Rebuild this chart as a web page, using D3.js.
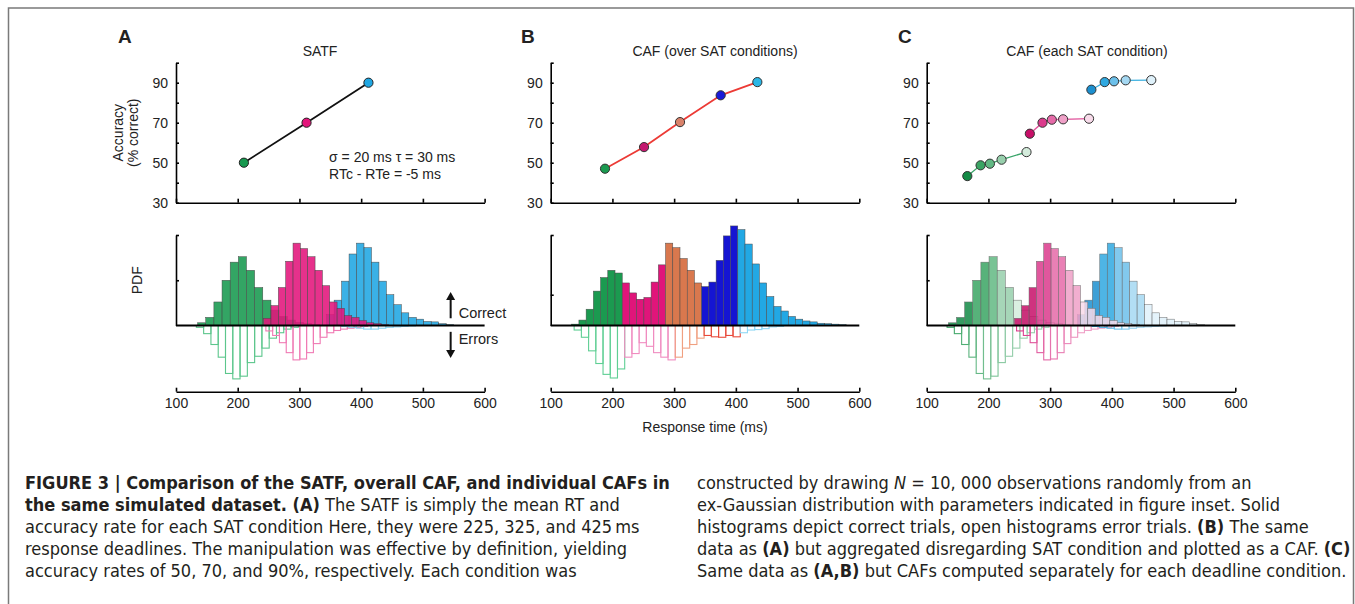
<!DOCTYPE html>
<html>
<head>
<meta charset="utf-8">
<script src="https://cdn.jsdelivr.net/npm/d3@7"></script>
<style>
body { margin: 0; background: #fff; }
svg { display: block; font-family: "Liberation Sans", Arial, sans-serif; }
.cap { font-family: "Liberation Sans Narrow", "DejaVu Sans Condensed", "Liberation Sans", sans-serif; white-space: pre; fill: #231f20; }
</style>
</head>
<body>
<div id="main"></div>
<script>
// ---- data ----
const RT_TICKS = [100, 200, 300, 400, 500, 600];
const ACC_TICKS = [30, 40, 50, 60, 70, 80, 90, 100];
const ACC_LABELS = [30, 50, 70, 90];
const PDF_TICKS = [[0.5, 1], [0.34, 1], [0.5, 1]];

// A: SATF
const SATF_RT = [210, 311.5, 411.8];
const SATF_ACC = [50, 70, 90];
const COND_FILL = ["#17994f", "#e3157b", "#1fa6e2"];
const COND_ERR = ["#5cc68c", "#f07ab4", "#8ad4f2"];

// B: CAF pooled over conditions
const CAF_RT = [188, 251.2, 309.5, 375.4, 434.8];
const CAF_ACC = [47, 57.8, 70.3, 83.7, 90.3];
const POOL_COLORS = ["#1b9a50", "#e0157a", "#d9784e", "#1515d2", "#22a8e4"];
const POOL_MARK = ["#1b9a50", "#c4186f", "#d9826a", "#1a1ad8", "#2ab6e6"];
const POOL_ERR_COLORS = ["#5fcf94", "#f08cc0", "#f0a080", "#e84b3c", "#8fd8f5"];

// C: CAF per condition
const CAFC_RT = [[165.8, 187.3, 202.4, 221.3, 261.7], [267.1, 287.6, 302.7, 321, 363], [366.8, 388.4, 403.5, 422.4, 463.9]];
const CAFC_ACC = [[43.3, 48.7, 49.5, 51.5, 55.3], [64.5, 70, 71.5, 71.7, 72], [86.5, 90.3, 90.7, 91.2, 91.3]];
const COND_SHADES = [
    ["#138a45", "#3aa463", "#62b883", "#97cfac", "#d4ecdc"],
    ["#c70f68", "#db3a8c", "#e56aa8", "#efa0c7", "#f8dbea"],
    ["#1c8fcf", "#2fa8e0", "#6cc0ea", "#a5d8f2", "#dff1fa"]
];
const COND_LINE = ["#3aa56a", "#e0529a", "#3cb0e0"];
const C_SEG = [[3, 2, 1, 2, 7], [3, 2, 2, 2, 8], [3, 2, 2, 2, 8]];

// histograms per SAT condition (relative PDF units)
const CORR_START = [135, 242, 344.1];
const CORR_WIDTH = [13.2, 11.9, 12.1];
const CORR_PDF = [
    [0.03, 0.09, 0.26, 0.50, 0.70, 0.76, 0.61, 0.42, 0.28, 0.17, 0.10, 0.06, 0.035, 0.02, 0.01],
    [0.08, 0.22, 0.42, 0.71, 0.91, 0.85, 0.76, 0.61, 0.44, 0.26, 0.19, 0.11, 0.09, 0.055, 0.03, 0.02, 0.01],
    [0.12, 0.28, 0.49, 0.79, 0.91, 0.86, 0.70, 0.49, 0.34, 0.23, 0.14, 0.09, 0.07, 0.045, 0.04, 0.02, 0.01]
];
const ERR_START = [133, 245.6, 368];
const ERR_WIDTH = [11.8, 11, 12];
const ERR_PDF = [
    [0.02, 0.09, 0.21, 0.35, 0.53, 0.59, 0.56, 0.41, 0.34, 0.25, 0.14, 0.08, 0.04, 0.02],
    [0.06, 0.11, 0.19, 0.30, 0.38, 0.37, 0.30, 0.20, 0.13, 0.08, 0.055, 0.04, 0.03, 0.02, 0.01],
    [0.01, 0.02, 0.03, 0.04, 0.04, 0.03, 0.02, 0.015, 0.01, 0.005]
];

// pooled histogram (panel B)
const POOL_START = 134, POOL_WIDTH = 11.7;
const POOL_PDF = [0.015, 0.06, 0.18, 0.38, 0.53, 0.61, 0.58,
    0.47, 0.36, 0.29, 0.31, 0.48, 0.67,
    0.91, 0.86, 0.74, 0.61, 0.47,
    0.43, 0.48, 0.72, 0.99, 1.10,
    1.06, 0.90, 0.68, 0.47, 0.32, 0.21, 0.16, 0.10, 0.07, 0.05, 0.04, 0.025, 0.02, 0.015, 0.01];
const POOL_SEG = [7, 6, 5, 5, 15];
const POOL_ERR_START = 138;
const POOL_ERR_PDF = [0.05, 0.13, 0.28, 0.42, 0.54, 0.58, 0.48,
    0.35, 0.31, 0.19, 0.23, 0.30, 0.35, 0.38,
    0.35, 0.25, 0.21, 0.14,
    0.11, 0.125, 0.13, 0.11, 0.125,
    0.08, 0.05, 0.045, 0.035, 0.015, 0.01];
const POOL_ERR_SEG = [7, 7, 4, 5, 6];

const CAPTION_LEFT = [
    [["FIGURE 3 | Comparison of the SATF, overall CAF, and individual CAFs in", "b"]],
    [["the same simulated dataset. (A)", "b"], [" The SATF is simply the mean RT and", ""]],
    [["accuracy rate for each SAT condition Here, they were 225, 325, and 425\u2009ms", ""]],
    [["response deadlines. The manipulation was effective by definition, yielding", ""]],
    [["accuracy rates of 50, 70, and 90%, respectively. Each condition was", ""]]
];
const CAPTION_RIGHT = [
    [["constructed by drawing ", ""], ["N", "i"], [" = 10, 000 observations randomly from an", ""]],
    [["ex-Gaussian distribution with parameters indicated in figure inset. Solid", ""]],
    [["histograms depict correct trials, open histograms error trials. ", ""], ["(B)", "b"], [" The same", ""]],
    [["data as ", ""], ["(A)", "b"], [" but aggregated disregarding SAT condition and plotted as a CAF. ", ""], ["(C)", "b"]],
    [["Same data as ", ""], ["(A,B)", "b"], [" but CAFs computed separately for each deadline condition.", ""]]
];

// ---- layout ----
const ctx = {
    w: 1355, h: 604,
    left: [176, 550.7, 926.7],
    pw: 308.6,
    rtAxisY: 391.7
};
const yAcc = d3.scaleLinear().domain([30, 100]).range([202.7, 62.7]);
const yPdf = d3.scaleLinear().domain([0, 1]).range([325.5, 235]);

const svg = d3.select("#main").append("svg")
    .attr("width", ctx.w).attr("height", ctx.h);

// page frame
svg.append("path")
    .attr("d", `M8.5,${ctx.h} V8 H1353.5 V${ctx.h}`)
    .attr("fill", "none").attr("stroke", "#7a7a7a").attr("stroke-width", 1.5);

function styleAxis(g) {
    g.selectAll("path, line").attr("stroke", "#000").attr("stroke-width", 1.6);
    g.attr("font-family", null).attr("font-size", 14);
    g.selectAll("text").attr("fill", "#222");
}

function segOf(j, seg) {
    let acc = 0;
    for (let s = 0; s < seg.length; s++) {
        acc += seg[s];
        if (j < acc) return s;
    }
    return seg.length - 1;
}

function drawBars(g, x, start, width, vals, sign, fill, stroke, sw, fop) {
    g.append("g").selectAll("rect")
        .data(vals.map((v, j) => ({ v: v, j: j })))
        .join("rect")
        .attr("x", d => x(start + d.j * width))
        .attr("width", d => x(start + (d.j + 1) * width) - x(start + d.j * width))
        .attr("y", d => sign > 0 ? yPdf(d.v) : yPdf(0))
        .attr("height", d => Math.abs(yPdf(d.v) - yPdf(0)))
        .attr("fill", fill)
        .attr("fill-opacity", fop)
        .attr("stroke", stroke)
        .attr("stroke-width", sw);
}

function drawPanel(i) {
    const x = d3.scaleLinear().domain([100, 600]).range([ctx.left[i], ctx.left[i] + ctx.pw]);
    const g = svg.append("g").attr("id", "panel" + i);

    // top: accuracy axes
    g.append("g").attr("transform", `translate(${x(100)},0)`)
        .call(d3.axisLeft(yAcc).tickValues(ACC_TICKS).tickSizeInner(-3).tickSizeOuter(0)
            .tickPadding(8).tickFormat(d => ACC_LABELS.includes(d) ? d : ""))
        .call(styleAxis);
    g.append("g").attr("transform", `translate(0,${yAcc(30)})`)
        .call(d3.axisBottom(x).tickValues(RT_TICKS).tickSizeInner(-4).tickSizeOuter(0).tickFormat(""))
        .call(styleAxis);

    // bottom: histograms
    const hg = g.append("g");
    if (i === 0 || i === 2) {
        // errors first (open), then correct (solid)
        [0, 1, 2].forEach(c => {
            if (i === 0) {
                drawBars(hg, x, ERR_START[c], ERR_WIDTH[c], ERR_PDF[c], -1, "none", COND_ERR[c], 1.1, 1);
            } else {
                const n = ERR_PDF[c].length;
                const shade = d3.interpolateRgb(COND_SHADES[c][1], COND_SHADES[c][3]);
                hg.append("g").selectAll("rect")
                    .data(ERR_PDF[c].map((v, j) => ({ v: v, j: j })))
                    .join("rect")
                    .attr("x", d => x(ERR_START[c] + d.j * ERR_WIDTH[c]))
                    .attr("width", d => x(ERR_START[c] + (d.j + 1) * ERR_WIDTH[c]) - x(ERR_START[c] + d.j * ERR_WIDTH[c]))
                    .attr("y", yPdf(0))
                    .attr("height", d => yPdf(-d.v) - yPdf(0))
                    .attr("fill", "none")
                    .attr("stroke", d => shade(Math.min(1, d.j / (n * 0.6))))
                    .attr("stroke-width", 1.1);
            }
        });
        [0, 2, 1].forEach(c => {
            if (i === 0) {
                drawBars(hg, x, CORR_START[c], CORR_WIDTH[c], CORR_PDF[c], 1, COND_FILL[c], "#4a4a4a", 0.5, 0.88);
            } else {
                hg.append("g").selectAll("rect")
                    .data(CORR_PDF[c].map((v, j) => ({ v: v, j: j })))
                    .join("rect")
                    .attr("x", d => x(CORR_START[c] + d.j * CORR_WIDTH[c]))
                    .attr("width", d => x(CORR_START[c] + (d.j + 1) * CORR_WIDTH[c]) - x(CORR_START[c] + d.j * CORR_WIDTH[c]))
                    .attr("y", d => yPdf(d.v))
                    .attr("height", d => yPdf(0) - yPdf(d.v))
                    .attr("fill", d => COND_SHADES[c][segOf(d.j, C_SEG[c])])
                    .attr("fill-opacity", 0.85)
                    .attr("stroke", "#6a6a6a")
                    .attr("stroke-width", 0.5);
            }
        });
    } else {
        hg.append("g").selectAll("rect")
            .data(POOL_ERR_PDF.map((v, j) => ({ v: v, j: j })))
            .join("rect")
            .attr("x", d => x(POOL_ERR_START + d.j * POOL_WIDTH))
            .attr("width", d => x(POOL_ERR_START + (d.j + 1) * POOL_WIDTH) - x(POOL_ERR_START + d.j * POOL_WIDTH))
            .attr("y", yPdf(0))
            .attr("height", d => yPdf(-d.v) - yPdf(0))
            .attr("fill", "none")
            .attr("stroke", d => POOL_ERR_COLORS[segOf(d.j, POOL_ERR_SEG)])
            .attr("stroke-width", 1.1);
        hg.append("g").selectAll("rect")
            .data(POOL_PDF.map((v, j) => ({ v: v, j: j })))
            .join("rect")
            .attr("x", d => x(POOL_START + d.j * POOL_WIDTH))
            .attr("width", d => x(POOL_START + (d.j + 1) * POOL_WIDTH) - x(POOL_START + d.j * POOL_WIDTH))
            .attr("y", d => yPdf(d.v))
            .attr("height", d => yPdf(0) - yPdf(d.v))
            .attr("fill", d => POOL_COLORS[segOf(d.j, POOL_SEG)])
            .attr("stroke", "#4a4a4a")
            .attr("stroke-width", 0.5);
    }

    // zero line over the bars
    g.append("line")
        .attr("x1", x(100)).attr("x2", x(600))
        .attr("y1", yPdf(0)).attr("y2", yPdf(0))
        .attr("stroke", "#000").attr("stroke-width", 2.2);

    // PDF axis and RT axis
    g.append("g").attr("transform", `translate(${x(100)},0)`)
        .call(d3.axisLeft(yPdf).tickValues(PDF_TICKS[i]).tickSizeInner(-3).tickSizeOuter(0).tickFormat(""))
        .call(styleAxis);
    g.append("g").attr("transform", `translate(0,${ctx.rtAxisY})`)
        .call(d3.axisBottom(x).tickValues(RT_TICKS).tickSizeInner(-4).tickSizeOuter(0).tickPadding(6))
        .call(styleAxis);

    // accuracy curves
    const line = d3.line().x(d => x(d[0])).y(d => yAcc(d[1]));
    if (i === 0) {
        const pts = SATF_RT.map((r, k) => [r, SATF_ACC[k], COND_FILL[k]]);
        g.append("path").attr("d", line(pts)).attr("fill", "none").attr("stroke", "#111").attr("stroke-width", 1.8);
        g.selectAll("circle.m").data(pts).join("circle").attr("class", "m")
            .attr("cx", d => x(d[0])).attr("cy", d => yAcc(d[1])).attr("r", 4.6)
            .attr("fill", d => d[2]).attr("stroke", "#222").attr("stroke-width", 1);
    } else if (i === 1) {
        const pts = CAF_RT.map((r, k) => [r, CAF_ACC[k], POOL_MARK[k]]);
        g.append("path").attr("d", line(pts)).attr("fill", "none").attr("stroke", "#ec3a35").attr("stroke-width", 1.8);
        g.selectAll("circle.m").data(pts).join("circle").attr("class", "m")
            .attr("cx", d => x(d[0])).attr("cy", d => yAcc(d[1])).attr("r", 4.6)
            .attr("fill", d => d[2]).attr("stroke", "#333").attr("stroke-width", 1);
    } else {
        [0, 1, 2].forEach(c => {
            const pts = CAFC_RT[c].map((r, k) => [r, CAFC_ACC[c][k], COND_SHADES[c][k]]);
            g.append("path").attr("d", line(pts)).attr("fill", "none").attr("stroke", COND_LINE[c]).attr("stroke-width", 1.3);
            g.append("g").selectAll("circle").data(pts).join("circle")
                .attr("cx", d => x(d[0])).attr("cy", d => yAcc(d[1])).attr("r", 4.6)
                .attr("fill", d => d[2]).attr("stroke", "#333").attr("stroke-width", 1);
        });
    }
    return x;
}

const xs = [0, 1, 2].map(drawPanel);

// ---- texts in the figure ----
const label = (x, y, t, size, weight, anchor) => svg.append("text")
    .attr("x", x).attr("y", y).attr("font-size", size).attr("font-weight", weight || "normal")
    .attr("text-anchor", anchor || "start").attr("fill", "#222").text(t);

label(118, 43, "A", 19, "bold");
label(521, 43, "B", 19, "bold");
label(898, 43, "C", 19, "bold");
label(320, 56, "SATF", 14, "normal", "middle");
label(715, 56, "CAF (over SAT conditions)", 14, "normal", "middle");
label(1087, 56, "CAF (each SAT condition)", 14, "normal", "middle");

label(xs[0](348), yAcc(50.6), "\u03C3 = 20 ms \u03C4 = 30 ms", 14);
label(xs[0](348), yAcc(41.9), "RTc - RTe = -5 ms", 14);

svg.append("text").attr("transform", `translate(123,${yAcc(65)}) rotate(-90)`)
    .attr("text-anchor", "middle").attr("font-size", 14).attr("fill", "#222").text("Accuracy");
svg.append("text").attr("transform", `translate(138,${yAcc(65)}) rotate(-90)`)
    .attr("text-anchor", "middle").attr("font-size", 14).attr("fill", "#222").text("(% correct)");
svg.append("text").attr("transform", `translate(141.5,${yPdf(0.5)}) rotate(-90)`)
    .attr("text-anchor", "middle").attr("font-size", 14).attr("fill", "#222").text("PDF");

label(xs[1](350), 432, "Response time (ms)", 14, "normal", "middle");

// Correct / Errors arrows
const ax = xs[0](545);
function arrow(y0, y1) {
    const dir = Math.sign(y1 - y0);
    svg.append("line").attr("x1", ax).attr("x2", ax).attr("y1", y0).attr("y2", y1 - dir * 6)
        .attr("stroke", "#111").attr("stroke-width", 2);
    svg.append("path")
        .attr("d", `M${ax - 4.5},${y1 - dir * 8} L${ax + 4.5},${y1 - dir * 8} L${ax},${y1} Z`)
        .attr("fill", "#111");
}
arrow(yPdf(0.08), yPdf(0.37));
arrow(yPdf(-0.07), yPdf(-0.36));
label(xs[0](558), yPdf(0.083), "Correct", 14.5);
label(xs[0](558), yPdf(-0.205), "Errors", 14.5);

// ---- caption ----
function captionBlock(lines, x0, y0) {
    return lines.map((runs, k) => {
        const t = svg.append("text").attr("class", "cap")
            .attr("x", x0).attr("y", y0 + k * 22).attr("font-size", 16);
        runs.forEach(r => {
            t.append("tspan")
                .attr("font-weight", r[1] === "b" ? "bold" : null)
                .attr("font-style", r[1] === "i" ? "italic" : null)
                .text(r[0]);
        });
        return t;
    });
}
const capL = captionBlock(CAPTION_LEFT, 25, 489);
const capR = captionBlock(CAPTION_RIGHT, 697, 489);
// fit the caption size to the width of the first line
const w1 = capL[0].node().getComputedTextLength();
const capSize = 16 * 645 / w1;
capL.concat(capR).forEach(t => t.attr("font-size", capSize));
</script>
</body>
</html>
